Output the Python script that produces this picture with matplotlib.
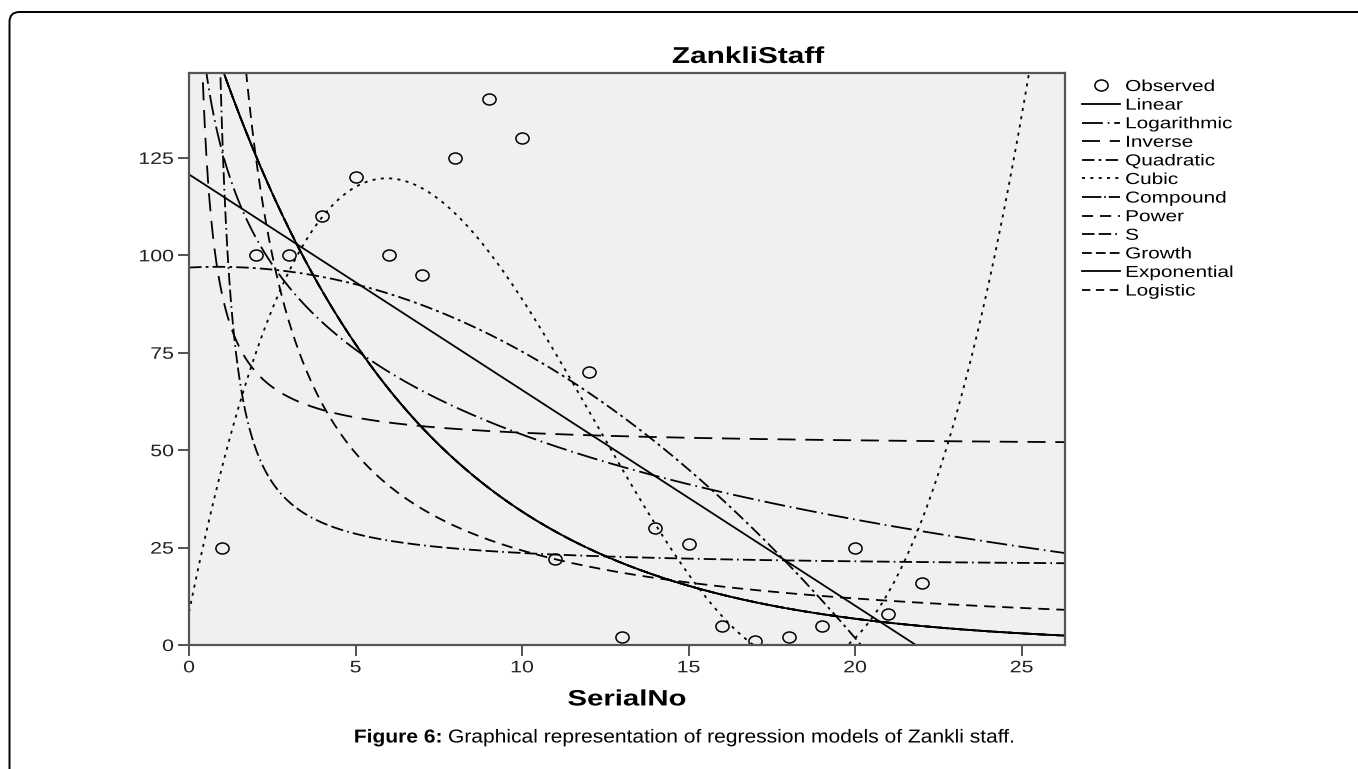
import numpy as np
import matplotlib
matplotlib.use("Agg")
import matplotlib.pyplot as plt
from matplotlib import patheffects
from matplotlib.patches import FancyBboxPatch
from matplotlib.path import Path
from matplotlib.transforms import Affine2D

plt.rcParams['font.family'] = ['Liberation Sans', 'DejaVu Sans']
plt.rcParams['lines.scale_dashes'] = False

# observed values
serial_no = [1, 2, 3, 4, 5, 6, 7, 8, 9, 10, 11,
             12, 13, 14, 15, 16, 17, 18, 19, 20, 21, 22]
zankli_staff = [25, 100, 100, 110, 120, 100, 95, 125, 140, 130, 22,
                70, 2, 30, 26, 5, 1, 2, 5, 25, 8, 16]

x_ticks = [0, 5, 10, 15, 20, 25]
y_ticks = [0, 25, 50, 75, 100, 125]
x_max = 26.3
y_max = 146.8


class Stretch(patheffects.AbstractPathEffect):
    # the source chart is a stretched SPSS export, text is wider than Arial
    def __init__(self, sx, anchor='left'):
        super().__init__()
        self.sx = sx
        self.anchor = anchor

    def draw_path(self, renderer, gc, tpath, affine, rgbFace=None):
        ext = tpath.get_extents()
        x0 = 0
        if self.anchor == 'center':
            x0 = (ext.x0 + ext.x1) / 2
        elif self.anchor == 'right':
            x0 = ext.x1
        t = Affine2D().translate(-x0, 0).scale(self.sx, 1).translate(x0, 0) + affine
        renderer.draw_path(gc, tpath, t, rgbFace)


x = np.array(serial_no, dtype=float)
y = np.array(zankli_staff, dtype=float)

# curve estimation, same models as the SPSS output
lin = np.polyfit(x, y, 1)
logc = np.polyfit(np.log(x), y, 1)
inv = np.polyfit(1 / x, y, 1)
quad = np.polyfit(x, y, 2)
cub = np.polyfit(x, y, 3)
expc = np.polyfit(x, np.log(y), 1)      # compound / growth / exponential / logistic
powc = np.polyfit(np.log(x), np.log(y), 1)
sc = np.polyfit(1 / x, np.log(y), 1)

xs = np.linspace(0.0, x_max, 3000)
xp = np.linspace(0.01, x_max, 3000)

models = [
    ("Linear", xs, np.polyval(lin, xs), '-'),
    ("Logarithmic", xp, np.polyval(logc, np.log(xp)), (0, (15, 3.5, 1.2, 3.5))),
    ("Inverse", xp, np.polyval(inv, 1 / xp), (0, (13, 7))),
    ("Quadratic", xs, np.polyval(quad, xs), (0, (9, 3, 2, 3))),
    ("Cubic", xs, np.polyval(cub, xs), (0, (2.2, 3.8))),
    ("Compound", xs, np.exp(np.polyval(expc, xs)), (0, (14, 2, 1.2, 2))),
    ("Power", xp, np.exp(np.polyval(powc, np.log(xp))), (0, (8, 5))),
    ("S", xp, np.exp(np.polyval(sc, 1 / xp)), (0, (9, 3, 9, 3, 1.2, 3))),
    ("Growth", xs, np.exp(np.polyval(expc, xs)), (0, (7, 3))),
    ("Exponential", xs, np.exp(np.polyval(expc, xs)), '-'),
    ("Logistic", xs, np.exp(np.polyval(expc, xs)), (0, (6, 4))),
]

# slightly wide open circle, like the stretched original
ellipse = Path.unit_circle().transformed(Affine2D().scale(1.2, 1.0))

fig = plt.figure(figsize=(13.58, 7.69), dpi=100)
ax = fig.add_axes([0.1392, 0.1612, 0.6450, 0.7439])
ax.set_facecolor('#f0f0f0')

ax.plot(x, y, ls='none', marker=ellipse, ms=9.5, mfc='none', mec='black',
        mew=1.1, label='Observed')
for name, xx, yy, ls in models:
    ax.plot(xx, yy, color='black', lw=1.3, ls=ls, label=name)

ax.set_xlim(0, x_max)
ax.set_ylim(0, y_max)
ax.set_xticks(x_ticks)
ax.set_yticks(y_ticks)
ax.tick_params(direction='out', length=8, width=1.3, color='#444444',
               labelsize=12, labelcolor='#222222', pad=3)
for s in ax.spines.values():
    s.set_color('#555555')
    s.set_linewidth(1.6)
for t in ax.xaxis.get_major_ticks():
    t.label1.set_path_effects([Stretch(1.28, 'center')])
for t in ax.yaxis.get_major_ticks():
    t.label1.set_path_effects([Stretch(1.28, 'right')])

ax.set_xlabel('SerialNo', fontsize=16, fontweight='bold',
              path_effects=[Stretch(1.32, 'center')])
ax.xaxis.set_label_coords(0.5, -0.096)
ax.xaxis.label.set_va('center')
ax.set_title('ZankliStaff', fontsize=16.5, fontweight='bold', x=0.638, y=1.0175,
             pad=0, path_effects=[Stretch(1.3, 'center')])

leg = ax.legend(loc='upper left', bbox_to_anchor=(1.016, 0.995), frameon=False,
                fontsize=11.5, handlelength=2.38, handletextpad=0.31,
                labelspacing=0.225, borderaxespad=0.0, borderpad=0.2)
for t in leg.get_texts():
    t.set_path_effects([Stretch(1.3)])

# outer page frame
frame = FancyBboxPatch((0.095, -1.0), 20, 7.57 + 1.0,
                       boxstyle="round,pad=0,rounding_size=0.1",
                       transform=fig.dpi_scale_trans, fill=False,
                       ec='black', lw=1.4, clip_on=False)
fig.patches.append(frame)

# caption with bold lead-in
cap_sx = 1.12
renderer = fig.canvas.get_renderer()
cap_y = 1 - 738 / 769
t1 = fig.text(0, cap_y, 'Figure 6:', fontsize=13.5, fontweight='bold', va='center',
              path_effects=[Stretch(cap_sx)])
t2 = fig.text(0, cap_y, ' Graphical representation of regression models of Zankli staff.',
              fontsize=13.5, va='center', path_effects=[Stretch(cap_sx)])
w1 = t1.get_window_extent(renderer).width * cap_sx
w2 = t2.get_window_extent(renderer).width * cap_sx
x0 = 684 - (w1 + w2) / 2
t1.set_x(x0 / 1358)
t2.set_x((x0 + w1) / 1358)

fig.savefig('out.png', dpi=100)
